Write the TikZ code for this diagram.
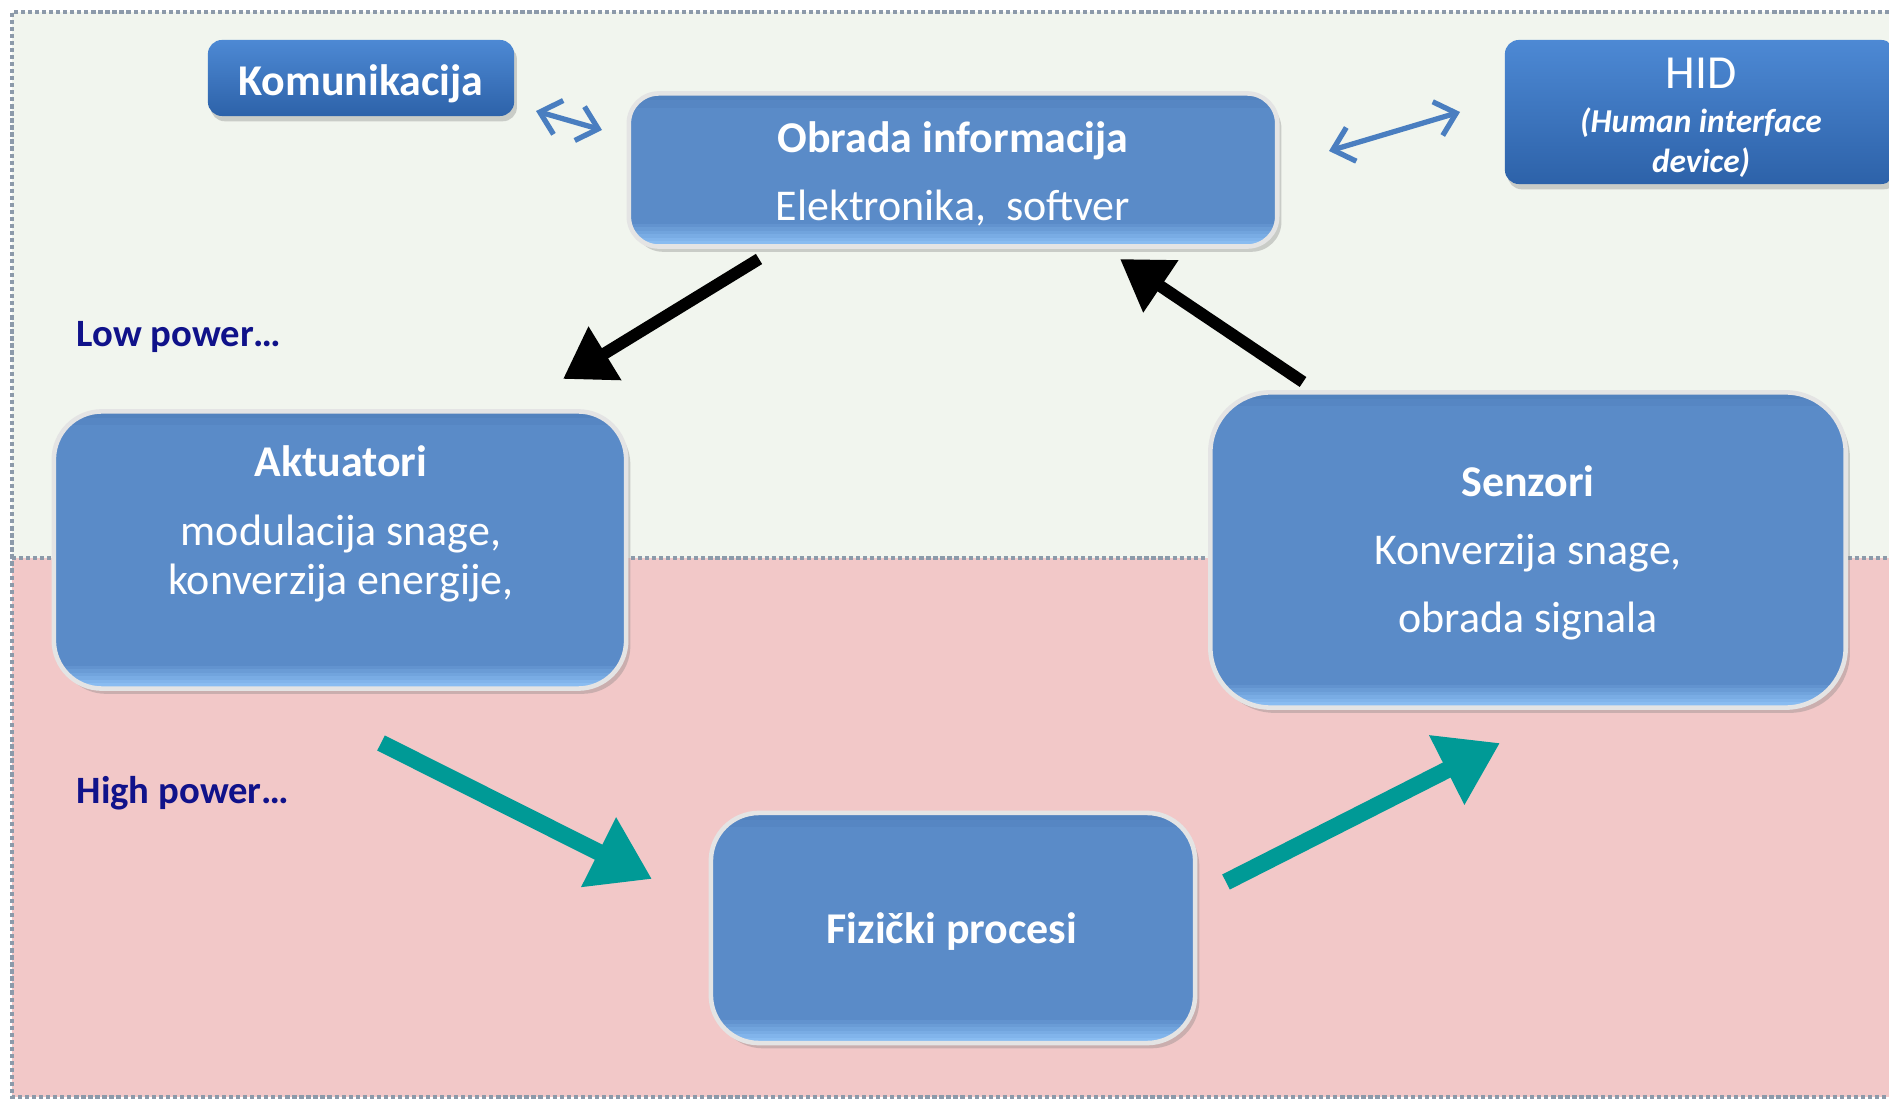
\documentclass[tikz,border=0pt]{standalone}
\usepackage{fontspec}
\setmainfont{Carlito}
\usetikzlibrary{arrows.meta,shadows}
\definecolor{bggreen}{HTML}{F1F5EE}
\definecolor{bgpink}{HTML}{F2C8C8}
\definecolor{boxblue}{HTML}{5A8BC8}
\definecolor{boxtop}{HTML}{4F7EBA}
\definecolor{boxlight}{HTML}{8EC2F6}
\definecolor{boxedge}{HTML}{E4E4E4}
\definecolor{darkbtop}{HTML}{4D89D4}
\definecolor{darkbbot}{HTML}{2D62A9}
\definecolor{linkblue}{HTML}{4A7EC0}
\definecolor{tealc}{HTML}{009A96}
\definecolor{navy}{HTML}{10128A}
\definecolor{borderg}{HTML}{8C9AAA}
\begin{document}
\begin{tikzpicture}[x=0.01cm,y=-0.01cm,
  bigbox/.style={rounded corners=#1, fill=boxblue, draw=boxedge, line width=1.3pt, inner sep=0pt,
    drop shadow={shadow xshift=1.2pt,shadow yshift=-1.5pt,opacity=0.35},
    path picture={
      \foreach \k/\p in {4/35,2/70}{
        \fill[sharp corners, boxtop!\p!boxblue] (path picture bounding box.north west) rectangle ([yshift=-\k pt]path picture bounding box.north east);}
      \foreach \k/\p in {6.5/15,5.5/30,4.5/45,3.5/60,2.5/75,1.5/90}{
        \fill[sharp corners, boxlight!\p!boxblue] (path picture bounding box.south west) rectangle ([yshift=\k pt]path picture bounding box.south east);}}},
  darkbox/.style={rounded corners=4pt, top color=darkbtop, bottom color=darkbbot, draw=none, inner sep=0pt,
    drop shadow={shadow xshift=0.8pt,shadow yshift=-1.5pt,opacity=0.35}},
  txt/.style={text=white, align=center, font=\fontsize{12.5}{14}\selectfont},
  lbl/.style={text=navy, anchor=west, inner sep=0pt, font=\fontsize{11}{13}\selectfont\bfseries},
  blackarrow/.style={line width=3.4pt, black, -{Triangle[length=14pt,width=17pt]}},
  tealarrow/.style={line width=4.8pt, tealc, -{Triangle[length=17pt,width=21pt]}},
  linkarrow/.style={line width=1.5pt, linkblue, {Straight Barb[length=5.5pt,width=10pt,line width=1.5pt]}-{Straight Barb[length=5.5pt,width=10pt,line width=1.5pt]}},
  border/.style={draw=borderg, line width=1pt, dash pattern=on 1.2pt off 0.8pt}
]
\useasboundingbox (0,0) rectangle (1889,1101);
\fill[white] (0,0) rectangle (1889,1101);
\fill[bggreen] (12,12) rectangle (1889,558);
\fill[bgpink] (12,558) rectangle (1889,1097);
\draw[border] (1889,12) -- (12,12) -- (12,1097) -- (1889,1097);
\draw[border] (12,558) -- (1889,558);

\node[lbl] (low) at (76,337) {Low power…};
\node[lbl] (high) at (76,793) {High power…};

\node[darkbox, minimum width=3.06cm, minimum height=0.76cm] (kom) at (361,78) {};
\node[txt, font=\fontsize{12.5}{14}\selectfont\bfseries] (komt) at (361,84) {Komunikacija};

\node[bigbox=0.3cm, minimum width=6.48cm, minimum height=1.53cm] (obr) at (953,170) {};
\node[txt] (obrt) at (953,174) {\textbf{Obrada informacija}\\[5.5pt]Elektronika,\ \ softver};

\node[darkbox, minimum width=3.9cm, minimum height=1.44cm] (hid) at (1700,112) {};
\node[txt, font=\fontsize{9.5}{11.5}\selectfont\bfseries\itshape] (hidt) at (1701,118) {\textmd{\textup{\fontsize{13.5}{15}\selectfont HID}}\\[1pt]
(Human interface\\device)};

\node[bigbox=0.48cm, minimum width=5.72cm, minimum height=2.77cm] (akt) at (340,550) {};
\node[txt] (aktt) at (341,524) {\textbf{Aktuatori}\\[5.6pt]modulacija snage,\\konverzija energije,};

\node[bigbox=0.6cm, minimum width=6.35cm, minimum height=3.15cm] (sen) at (1528,550) {};
\node[txt] (sent) at (1528,553) {\textbf{Senzori}\\[5.4pt]Konverzija snage,\\[5.4pt]obrada signala};

\node[bigbox=0.48cm, minimum width=4.84cm, minimum height=2.3cm] (fiz) at (953,928) {};
\node[txt, font=\fontsize{12.5}{14}\selectfont\bfseries] (fizt) at (952,932) {Fizički procesi};

% connectors
\coordinate (k1) at (536,111); \coordinate (k2) at (602,130);
\draw[linkarrow] (k1) -- (k2);
\coordinate (h1) at (1329,151); \coordinate (h2) at (1460,112);
\draw[linkarrow] (h1) -- (h2);

\coordinate (b1s) at (759,259); \coordinate (b1e) at (563,379);
\draw[blackarrow] (b1s) -- (b1e);
\coordinate (b2s) at (1303,382); \coordinate (b2e) at (1120,259);
\draw[blackarrow] (b2s) -- (b2e);

\coordinate (t1s) at (381,743); \coordinate (t1e) at (652,879);
\draw[tealarrow] (t1s) -- (t1e);
\coordinate (t2s) at (1226,882); \coordinate (t2e) at (1500,743);
\draw[tealarrow] (t2s) -- (t2e);
\end{tikzpicture}
\end{document}
